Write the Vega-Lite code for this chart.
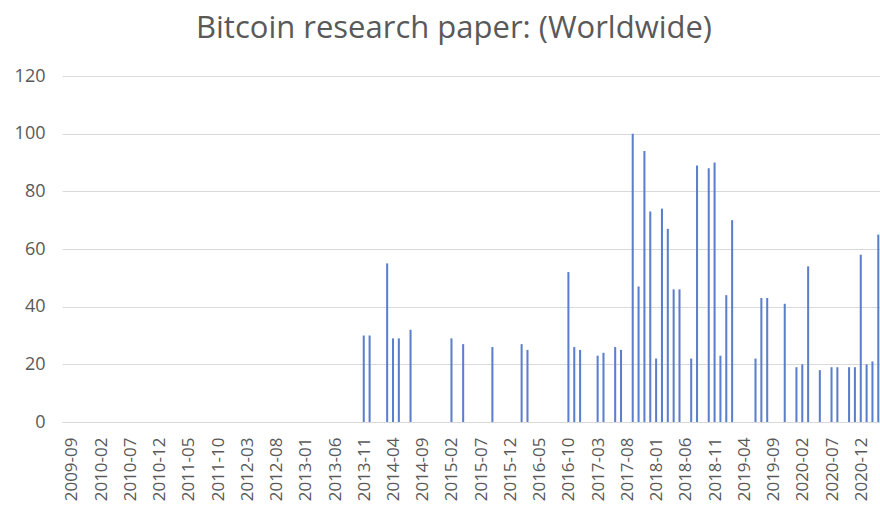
{
  "$schema": "https://vega.github.io/schema/vega-lite/v6.json",
  "width": 818,
  "height": 346,
  "autosize": "none",
  "padding": {"left": 62, "top": 76, "right": 0, "bottom": 95},
  "background": "white",
  "config": {"view": {"stroke": null}, "font": "Open Sans"},
  "title": {"text": "Bitcoin research paper: (Worldwide)", "fontSize": 31, "fontWeight": "normal", "color": "#595959", "font": "Open Sans", "anchor": "middle", "dx": -17, "offset": 22},
  "data": {"values": [
    {"month": "2013-11", "papers": 30},
    {"month": "2013-12", "papers": 30},
    {"month": "2014-03", "papers": 55},
    {"month": "2014-04", "papers": 29},
    {"month": "2014-05", "papers": 29},
    {"month": "2014-07", "papers": 32},
    {"month": "2015-02", "papers": 29},
    {"month": "2015-04", "papers": 27},
    {"month": "2015-09", "papers": 26},
    {"month": "2016-02", "papers": 27},
    {"month": "2016-03", "papers": 25},
    {"month": "2016-10", "papers": 52},
    {"month": "2016-11", "papers": 26},
    {"month": "2016-12", "papers": 25},
    {"month": "2017-03", "papers": 23},
    {"month": "2017-04", "papers": 24},
    {"month": "2017-06", "papers": 26},
    {"month": "2017-07", "papers": 25},
    {"month": "2017-09", "papers": 100},
    {"month": "2017-10", "papers": 47},
    {"month": "2017-11", "papers": 94},
    {"month": "2017-12", "papers": 73},
    {"month": "2018-01", "papers": 22},
    {"month": "2018-02", "papers": 74},
    {"month": "2018-03", "papers": 67},
    {"month": "2018-04", "papers": 46},
    {"month": "2018-05", "papers": 46},
    {"month": "2018-07", "papers": 22},
    {"month": "2018-08", "papers": 89},
    {"month": "2018-10", "papers": 88},
    {"month": "2018-11", "papers": 90},
    {"month": "2018-12", "papers": 23},
    {"month": "2019-01", "papers": 44},
    {"month": "2019-02", "papers": 70},
    {"month": "2019-06", "papers": 22},
    {"month": "2019-07", "papers": 43},
    {"month": "2019-08", "papers": 43},
    {"month": "2019-11", "papers": 41},
    {"month": "2020-01", "papers": 19},
    {"month": "2020-02", "papers": 20},
    {"month": "2020-03", "papers": 54},
    {"month": "2020-05", "papers": 18},
    {"month": "2020-07", "papers": 19},
    {"month": "2020-08", "papers": 19},
    {"month": "2020-10", "papers": 19},
    {"month": "2020-11", "papers": 19},
    {"month": "2020-12", "papers": 58},
    {"month": "2021-01", "papers": 20},
    {"month": "2021-02", "papers": 21},
    {"month": "2021-03", "papers": 65}
  ]},
  "mark": {"type": "bar", "color": "#5b7fcb"},
  "encoding": {
    "x": {
      "field": "month", "type": "ordinal", "sort": null,
      "scale": {
        "domain": ["2009-09","2009-10","2009-11","2009-12",
          "2010-01","2010-02","2010-03","2010-04","2010-05","2010-06","2010-07","2010-08","2010-09","2010-10","2010-11","2010-12",
          "2011-01","2011-02","2011-03","2011-04","2011-05","2011-06","2011-07","2011-08","2011-09","2011-10","2011-11","2011-12",
          "2012-01","2012-02","2012-03","2012-04","2012-05","2012-06","2012-07","2012-08","2012-09","2012-10","2012-11","2012-12",
          "2013-01","2013-02","2013-03","2013-04","2013-05","2013-06","2013-07","2013-08","2013-09","2013-10","2013-11","2013-12",
          "2014-01","2014-02","2014-03","2014-04","2014-05","2014-06","2014-07","2014-08","2014-09","2014-10","2014-11","2014-12",
          "2015-01","2015-02","2015-03","2015-04","2015-05","2015-06","2015-07","2015-08","2015-09","2015-10","2015-11","2015-12",
          "2016-01","2016-02","2016-03","2016-04","2016-05","2016-06","2016-07","2016-08","2016-09","2016-10","2016-11","2016-12",
          "2017-01","2017-02","2017-03","2017-04","2017-05","2017-06","2017-07","2017-08","2017-09","2017-10","2017-11","2017-12",
          "2018-01","2018-02","2018-03","2018-04","2018-05","2018-06","2018-07","2018-08","2018-09","2018-10","2018-11","2018-12",
          "2019-01","2019-02","2019-03","2019-04","2019-05","2019-06","2019-07","2019-08","2019-09","2019-10","2019-11","2019-12",
          "2020-01","2020-02","2020-03","2020-04","2020-05","2020-06","2020-07","2020-08","2020-09","2020-10","2020-11","2020-12",
          "2021-01","2021-02","2021-03"],
        "paddingInner": 0.65,
        "paddingOuter": 0.775,
        "align": 0.925
      },
      "axis": {
        "title": null,
        "values": ["2009-09","2010-02","2010-07","2010-12","2011-05","2011-10","2012-03","2012-08","2013-01","2013-06","2013-11","2014-04","2014-09","2015-02","2015-07","2015-12","2016-05","2016-10","2017-03","2017-08","2018-01","2018-06","2018-11","2019-04","2019-09","2020-02","2020-07","2020-12"],
        "labelAngle": -90,
        "labelFontSize": 17,
        "labelColor": "#595959",
        "labelFont": "Open Sans",
        "labelPadding": 15,
        "labelOffset": 1,
        "ticks": false,
        "domain": true,
        "domainColor": "#d9d9d9",
        "grid": false
      }
    },
    "y": {
      "field": "papers", "type": "quantitative",
      "scale": {"domain": [0, 120], "nice": false},
      "axis": {
        "title": null,
        "values": [0, 20, 40, 60, 80, 100, 120],
        "labelFontSize": 18,
        "labelColor": "#595959",
        "labelFont": "Open Sans",
        "labelPadding": 17,
        "ticks": false,
        "domain": false,
        "grid": true,
        "gridColor": "#d9d9d9",
        "gridWidth": 1
      }
    }
  }
}
